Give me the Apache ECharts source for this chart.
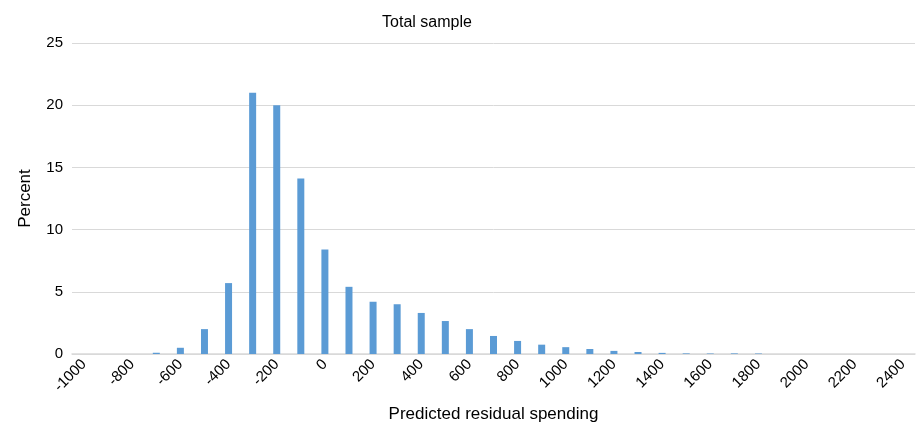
<!DOCTYPE html>
<html lang="en">
<head>
    <meta charset="UTF-8">
    <style>
    body { margin: 0; padding: 0; background: #ffffff; }
    #chart { width: 920px; height: 430px; }
    </style>
    <script src="https://cdn.jsdelivr.net/npm/echarts@6/dist/echarts.min.js"></script>
</head>
<body>
    <div id="chart"></div>
    <script>
        // bins of predicted residual spending, step 100
        const bins = [-1000, -900, -800, -700, -600, -500, -400, -300, -200, -100,
            0, 100, 200, 300, 400, 500, 600, 700, 800, 900,
            1000, 1100, 1200, 1300, 1400, 1500, 1600, 1700, 1800, 1900,
            2000, 2100, 2200, 2300, 2400];
        const percent = [0, 0, 0, 0.1, 0.5, 2.0, 5.7, 21.0, 20.0, 14.1,
            8.4, 5.4, 4.2, 4.0, 3.3, 2.65, 2.0, 1.45, 1.05, 0.75,
            0.55, 0.4, 0.25, 0.16, 0.09, 0.05, 0.04, 0.05, 0.04, 0,
            0, 0, 0, 0, 0];
        const yTicks = [0, 5, 10, 15, 20, 25];

        const chart = echarts.init(document.getElementById('chart'), null, { renderer: 'canvas' });
        const font = '"Liberation Sans", Arial, sans-serif';

        chart.setOption({
            animation: false,
            title: {
                text: 'Total sample',
                left: 422,
                top: 10,
                textAlign: 'center',
                textStyle: { fontFamily: font, fontSize: 16, fontWeight: 'normal', color: '#000' }
            },
            grid: { left: 72, right: 5, top: 43, bottom: 76, outerBoundsMode: 'none' },
            xAxis: {
                type: 'category',
                data: bins,
                name: 'Predicted residual spending',
                nameLocation: 'middle',
                nameGap: 52,
                nameTextStyle: { fontFamily: font, fontSize: 17, color: '#000' },
                axisLine: { lineStyle: { color: '#d9d9d9', width: 1.5 } },
                axisTick: { show: false },
                axisLabel: {
                    interval: 1,
                    rotate: 45,
                    margin: 8,
                    fontFamily: font,
                    fontSize: 15,
                    color: '#000'
                }
            },
            yAxis: {
                type: 'value',
                min: yTicks[0],
                max: yTicks[yTicks.length - 1],
                interval: 5,
                name: 'Percent',
                nameLocation: 'middle',
                nameGap: 38,
                nameTextStyle: { fontFamily: font, fontSize: 17, color: '#000' },
                axisLine: { show: false },
                axisTick: { show: false },
                axisLabel: { fontFamily: font, fontSize: 15, color: '#000', margin: 9 },
                splitLine: { lineStyle: { color: '#d9d9d9', width: 1 } }
            },
            series: [{
                type: 'bar',
                data: percent,
                barWidth: 7,
                itemStyle: { color: '#5b9bd5' }
            }]
        });
    </script>
</body>
</html>
